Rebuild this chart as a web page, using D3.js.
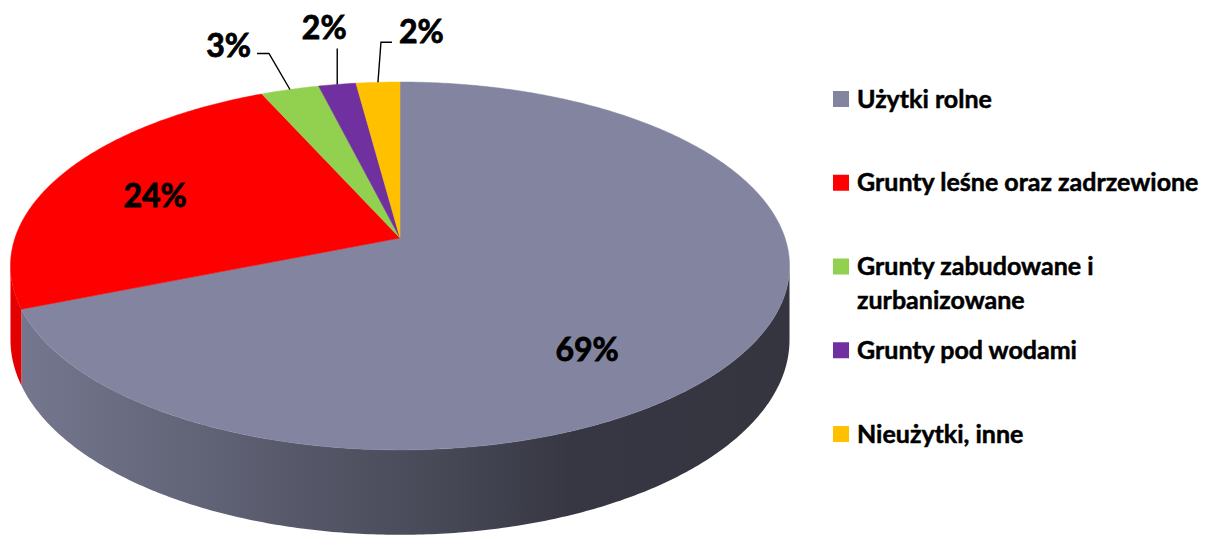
<!DOCTYPE html>
<html>
<head>
<meta charset="utf-8">
<script src="https://d3js.org/d3.v7.min.js"></script>
<style>
  body { margin: 0; background: #fff; }
  text { font-family: Lato, "Open Sans", sans-serif; font-weight: bold; }
</style>
</head>
<body>
<svg id="chart" width="1225" height="538"></svg>
<script>
// data (percent of area)
const categories = ["Użytki rolne", "Grunty leśne oraz zadrzewione", "Grunty zabudowane i zurbanizowane", "Grunty pod wodami", "Nieużytki, inne"];
const values = [68.9, 24.4, 2.8, 1.8, 2.1];
const colors = ["#8385a0", "#ff0000", "#92d050", "#7030a0", "#ffc000"];
// legend text split into lines as in the picture
const legendLines = [["Użytki rolne"], ["Grunty leśne oraz zadrzewione"], ["Grunty zabudowane i", "zurbanizowane"], ["Grunty pod wodami"], ["Nieużytki, inne"]];

const svg = d3.select("#chart");

// perspective disk: centre of the pie, half axes, perspective factor, thickness
const cx = 400, cy = 238, A = 385, B = 179.7, k = 0.152, H = 72;

function proj(theta, r, z) {
    const u = r * Math.sin(theta), v = -r * Math.cos(theta);
    const w = 1 - k * v;
    return [cx + A * u / w, cy + (B * v + H * z) / w];
}

function rim(a0, a1, z) {
    const n = Math.max(2, Math.ceil((a1 - a0) / 0.01));
    return d3.range(n + 1).map(i => proj(a0 + (a1 - a0) * i / n, 1, z));
}

const arcs = d3.pie().sort(null).value(d => d)(values);
const line = d3.line();

// visible part of the outer wall (between the two silhouettes)
const sil = Math.acos(-k);
const vis0 = sil, vis1 = 2 * Math.PI - sil;

const defs = svg.append("defs");
arcs.forEach((d, i) => {
    const c = d3.color(colors[i]);
    const g = defs.append("linearGradient")
        .attr("id", "side" + i)
        .attr("gradientUnits", "userSpaceOnUse")
        .attr("x1", cx - A * 1.012).attr("x2", cx + A * 1.012)
        .attr("y1", 0).attr("y2", 0);
    [[0, 0.3], [0.55, 1.7], [0.72, 2.5], [1, 2.6]].forEach(s => {
        g.append("stop").attr("offset", s[0]).attr("stop-color", c.darker(s[1]).formatHex());
    });
});

const pie = svg.append("g");

// outer wall
arcs.forEach((d, i) => {
    const a0 = Math.max(d.startAngle, vis0), a1 = Math.min(d.endAngle, vis1);
    if (a1 <= a0) return;
    const pts = rim(a0, a1, 0).concat(rim(a0, a1, 1).reverse());
    pie.append("path")
        .attr("d", line(pts) + "Z")
        .attr("fill", "url(#side" + i + ")");
});

// top face
arcs.forEach((d, i) => {
    const pts = [proj(0, 0, 0)].concat(rim(d.startAngle, d.endAngle, 0));
    pie.append("path")
        .attr("d", line(pts) + "Z")
        .attr("fill", colors[i])
        .attr("stroke", colors[i])
        .attr("stroke-width", 0.5);
});

// labels
const labelFont = 32;
// inner labels: position on the disk (angle shift from mid angle, radius)
const inner = { 0: [0.312, 0.72], 1: [-0.024, 0.705] };
// outer labels with leaders: elbow and end offsets from the rim point, text offset
const leaders = {
    2: { elbow: [-21, -36], end: [-33, -36], anchor: "end", tx: -39, ty: -44 },
    3: { elbow: [0, -36], end: [0, -36], anchor: "middle", tx: -13, ty: -57 },
    4: { elbow: [3, -40], end: [14, -40], anchor: "start", tx: 21, ty: -51 }
};

arcs.forEach((d, i) => {
    const mid = (d.startAngle + d.endAngle) / 2;
    const txt = Math.round(values[i]) + "%";
    if (inner[i]) {
        const p = proj(mid + inner[i][0], inner[i][1], 0);
        svg.append("text")
            .attr("x", p[0]).attr("y", p[1])
            .attr("dy", "0.36em")
            .attr("text-anchor", "middle")
            .attr("font-size", labelFont)
            .attr("stroke", "#000").attr("stroke-width", 0.8)
            .text(txt);
    } else {
        const L = leaders[i];
        const p = proj(mid, 1, 0);
        const pts = [p, [p[0] + L.elbow[0], p[1] + L.elbow[1]], [p[0] + L.end[0], p[1] + L.end[1]]];
        svg.append("path")
            .attr("d", line(pts))
            .attr("fill", "none")
            .attr("stroke", "#000")
            .attr("stroke-width", 1.4);
        svg.append("text")
            .attr("x", p[0] + L.tx).attr("y", p[1] + L.ty)
            .attr("dy", "0.36em")
            .attr("text-anchor", L.anchor)
            .attr("font-size", labelFont)
            .attr("stroke", "#000").attr("stroke-width", 0.8)
            .text(txt);
    }
});

// legend
const legendY = d3.scalePoint().domain(d3.range(categories.length)).range([99, 434]);
const legend = svg.append("g").attr("transform", "translate(833,0)");
categories.forEach((c, i) => {
    const y = legendY(i);
    legend.append("rect")
        .attr("x", 0).attr("y", y - 8)
        .attr("width", 16).attr("height", 16)
        .attr("fill", colors[i]);
    const t = legend.append("text")
        .attr("x", 24).attr("y", y + 8.5)
        .attr("font-size", 25)
        .attr("stroke", "#000").attr("stroke-width", 0.5);
    legendLines[i].forEach((s, j) => {
        t.append("tspan").attr("x", 24).attr("dy", j === 0 ? 0 : 34).text(s);
    });
});
</script>
</body>
</html>
